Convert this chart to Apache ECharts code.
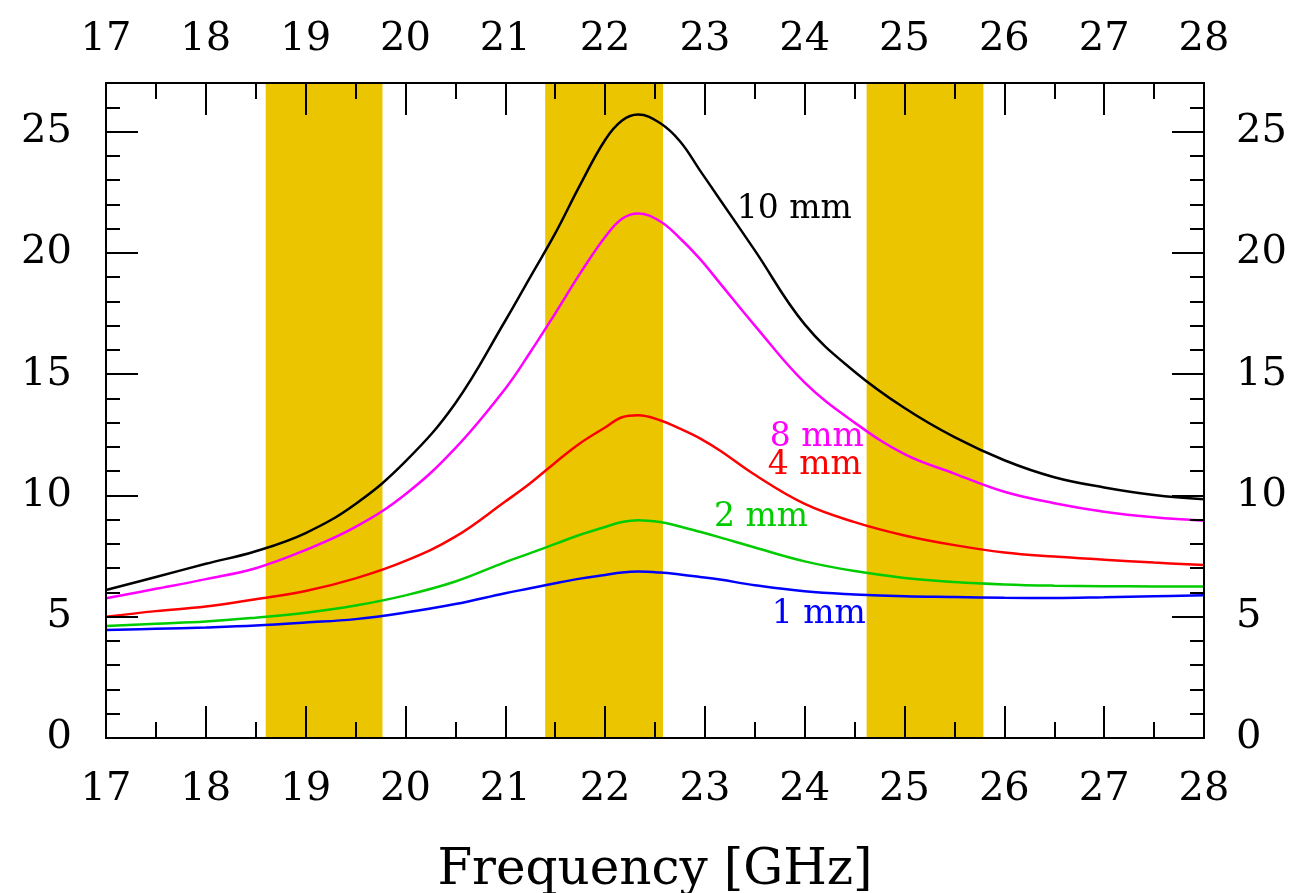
<!DOCTYPE html>
<html>
<head>
<meta charset="utf-8">
<script src="https://cdn.jsdelivr.net/npm/echarts@6/dist/echarts.min.js"></script>
<style>html,body{margin:0;padding:0;background:#fff;}#c{width:1300px;height:893px;}</style>
</head>
<body>
<div id="c"></div>
<script>
// Frequency samples (GHz)
const freq = [17.0, 17.5, 18.0, 18.5, 19.0, 19.5, 20.0, 20.5, 21.0, 21.25, 21.5, 21.75, 22.0, 22.17, 22.33, 22.55, 22.75, 22.95, 23.15, 23.5, 24.0, 24.5, 25.0, 25.5, 26.0, 26.5, 27.0, 27.5, 28.0];
// Curves
const pwv10 = [6.1, 6.64, 7.18, 7.7, 8.45, 9.65, 11.4, 13.8, 17.2, 19.0, 20.8, 22.8, 24.65, 25.45, 25.7, 25.35, 24.6, 23.4, 22.2, 20.1, 17.05, 15.1, 13.6, 12.4, 11.45, 10.75, 10.33, 10.02, 9.84];
const pwv8  = [5.76, 6.15, 6.55, 7.0, 7.75, 8.7, 10.05, 11.95, 14.4, 15.9, 17.5, 19.15, 20.65, 21.4, 21.62, 21.3, 20.6, 19.75, 18.75, 17.0, 14.65, 13.0, 11.7, 10.9, 10.15, 9.68, 9.33, 9.1, 8.96];
const pwv4  = [5.0, 5.23, 5.42, 5.72, 6.06, 6.58, 7.3, 8.3, 9.75, 10.5, 11.35, 12.15, 12.8, 13.22, 13.3, 13.1, 12.75, 12.35, 11.85, 10.85, 9.65, 8.9, 8.35, 7.95, 7.65, 7.48, 7.35, 7.23, 7.13];
const pwv2  = [4.62, 4.71, 4.8, 4.96, 5.16, 5.46, 5.88, 6.45, 7.25, 7.62, 8.0, 8.38, 8.7, 8.9, 8.98, 8.9, 8.72, 8.5, 8.27, 7.85, 7.28, 6.88, 6.6, 6.43, 6.33, 6.28, 6.26, 6.25, 6.25];
const pwv1  = [4.45, 4.5, 4.56, 4.64, 4.76, 4.9, 5.17, 5.52, 5.97, 6.17, 6.38, 6.57, 6.72, 6.82, 6.86, 6.82, 6.74, 6.64, 6.53, 6.3, 6.05, 5.92, 5.84, 5.81, 5.78, 5.77, 5.8, 5.84, 5.88];
// Shaded bands (GHz)
const bandStart = [18.6, 21.4, 24.62];
const bandEnd   = [19.77, 22.58, 25.79];
// Tick labels
const xTicks = [17, 18, 19, 20, 21, 22, 23, 24, 25, 26, 27, 28];
const yTicks = [0, 5, 10, 15, 20, 25];
// Curve labels
const labelText = ['10 mm', '8 mm', '4 mm', '2 mm', '1 mm'];
const labelX = [23.32, 23.65, 23.63, 23.09, 23.67];
const labelY = [21.78, 12.4, 11.23, 9.1, 5.1];

const colors = ['#000000', '#ff00ff', '#ff0000', '#00cc00', '#0000ff'];
const seriesData = [pwv10, pwv8, pwv4, pwv2, pwv1];
const FONT = 'DejaVu Serif';

const chart = echarts.init(document.getElementById('c'), null, {renderer: 'canvas'});

function xAxisDef(pos, showName) {
  return {
    type: 'value', position: pos, min: 17, max: 28, interval: 1, z: 5,
    axisLine: {show: true, onZero: false, lineStyle: {color: '#000', width: 2}},
    axisTick: {show: true, inside: true, length: 32, lineStyle: {color: '#000', width: 2}},
    minorTick: {show: true, splitNumber: 2, length: 16, lineStyle: {color: '#000', width: 2}},
    splitLine: {show: false}, minorSplitLine: {show: false},
    axisLabel: {show: true, margin: pos === 'bottom' ? 32 : 23, fontFamily: FONT, fontSize: 40, color: '#000',
      customValues: xTicks},
    name: showName ? 'Frequency [GHz]' : '', nameLocation: 'middle', nameGap: 108,
    nameTextStyle: {fontFamily: FONT, fontSize: 50, color: '#000'}
  };
}
function yMajor(pos) {
  return {
    type: 'value', position: pos, min: 0, max: 27, interval: 5, z: 5,
    axisLine: {show: true, onZero: false, lineStyle: {color: '#000', width: 2}},
    axisTick: {show: true, inside: true, length: 32, lineStyle: {color: '#000', width: 2}},
    splitLine: {show: false},
    axisLabel: {show: true, margin: pos === 'left' ? 34 : 32, fontFamily: FONT, fontSize: 40, color: '#000',
      customValues: yTicks}
  };
}
function yMinor(pos) {
  return {
    type: 'value', position: pos, min: 0, max: 27, interval: 1, z: 5,
    axisLine: {show: false},
    axisTick: {show: true, inside: true, length: 14, lineStyle: {color: '#000', width: 2}},
    splitLine: {show: false},
    axisLabel: {show: false}
  };
}

const series = [{
  type: 'line', data: [], z: 1, silent: true,
  markArea: {
    silent: true,
    itemStyle: {color: '#ebc500', opacity: 1},
    data: bandStart.map((s, i) => [{xAxis: s}, {xAxis: bandEnd[i]}])
  }
}];
seriesData.forEach((d, k) => {
  series.push({
    type: 'line', z: 3, smooth: 0.4, symbol: 'none',
    data: freq.map((f, i) => [f, d[i]]),
    lineStyle: {color: colors[k], width: 2.5},
    markPoint: {
      symbol: 'circle', symbolSize: 0, silent: true,
      data: [{coord: [labelX[k], labelY[k]]}],
      label: {show: true, position: 'inside', formatter: labelText[k], align: 'left', verticalAlign: 'middle',
        fontFamily: FONT, fontSize: 33, color: colors[k]}
    }
  });
});

chart.setOption({
  animation: false,
  backgroundColor: '#fff',
  grid: {left: 106, right: 96, top: 83, bottom: 155, containLabel: false, outerBoundsMode: 'none'},
  xAxis: [xAxisDef('bottom', true), xAxisDef('top', false)],
  yAxis: [yMajor('left'), yMinor('left'), yMajor('right'), yMinor('right')],
  series: series
});
</script>
</body>
</html>
